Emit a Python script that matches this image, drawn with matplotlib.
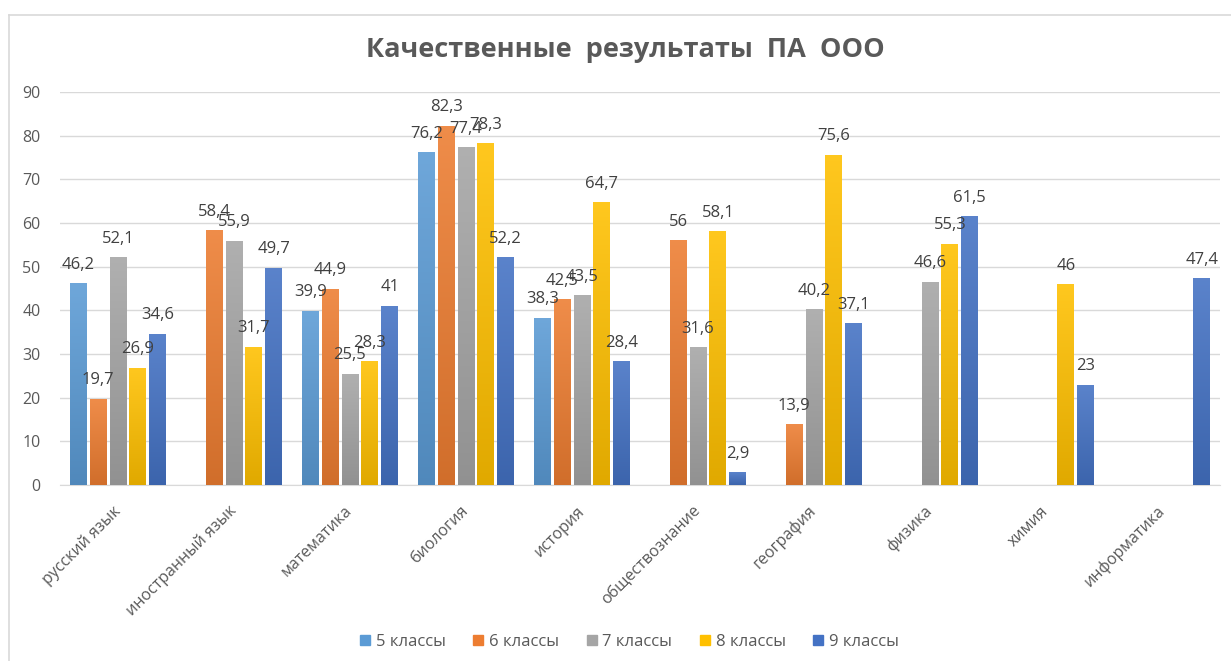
import numpy as np
import matplotlib
matplotlib.use('Agg')
import matplotlib.pyplot as plt
from matplotlib.colors import LinearSegmentedColormap, to_rgb
from matplotlib.lines import Line2D

plt.rcParams['font.family'] = ['Open Sans', 'DejaVu Sans']

subjects = ['русский язык', 'иностранный язык', 'математика', 'биология', 'история',
            'обществознание', 'география', 'физика', 'химия', 'информатика']
series_names = ['5 классы', '6 классы', '7 классы', '8 классы', '9 классы']
nan = np.nan
grade5 = [46.2, nan, 39.9, 76.2, 38.3, nan, nan, nan, nan, nan]
grade6 = [19.7, 58.4, 44.9, 82.3, 42.5, 56, 13.9, nan, nan, nan]
grade7 = [52.1, 55.9, 25.5, 77.4, 43.5, 31.6, 40.2, 46.6, nan, nan]
grade8 = [26.9, 31.7, 28.3, 78.3, 64.7, 58.1, 75.6, 55.3, 46, nan]
grade9 = [34.6, 49.7, 41, 52.2, 28.4, 2.9, 37.1, 61.5, 23, 47.4]
series = [grade5, grade6, grade7, grade8, grade9]
colors = ['#5B9BD5', '#ED7D31', '#A5A5A5', '#FFC000', '#4472C4']


def shade(c, f):
    r, g, b = to_rgb(c)
    if f > 0:
        return (r + (1 - r) * f, g + (1 - g) * f, b + (1 - b) * f)
    return (r * (1 + f), g * (1 + f), b * (1 + f))


fig = plt.figure(figsize=(12.31, 6.61), dpi=100)
ax = fig.add_axes([60 / 1231, (661 - 485) / 661, 1160 / 1231, (485 - 92) / 661])

x = np.arange(len(subjects))
slot = 0.171
width = 0.145
grad = np.linspace(0, 1, 256).reshape(-1, 1)

for i, (vals, col) in enumerate(zip(series, colors)):
    cmap = LinearSegmentedColormap.from_list('g%d' % i, [shade(col, -0.12), shade(col, 0.12)])
    offs = x + (i - 2) * slot
    bars = ax.bar(offs, np.nan_to_num(vals), width, color=col, zorder=2)
    for b, v in zip(bars, vals):
        if np.isnan(v):
            b.set_visible(False)
            continue
        im = ax.imshow(grad, cmap=cmap, origin='lower', aspect='auto', zorder=3,
                       extent=[b.get_x(), b.get_x() + b.get_width(), 0, v])
        im.set_clip_path(b)
        lbl = ('%g' % v).replace('.', ',')
        ax.text(b.get_x() + b.get_width() / 2, v + 2.4, lbl, ha='center', va='bottom',
                fontsize=12, color='#404040', zorder=4)

ax.set_xlim(-0.5, len(subjects) - 0.5)
ax.set_ylim(0, 90)
ax.set_yticks(range(0, 91, 10))
ax.yaxis.grid(True, color='#D9D9D9', linewidth=1)
ax.set_axisbelow(True)
for s in ['top', 'right', 'left']:
    ax.spines[s].set_visible(False)
ax.spines['bottom'].set_color('#D9D9D9')
ax.tick_params(axis='y', length=0, labelsize=11.5, labelcolor='#595959', pad=14)
ax.tick_params(axis='x', length=0, labelsize=11.5, labelcolor='#595959', pad=17)
ax.set_xticks(x)
ax.set_xticklabels(subjects, rotation=45, ha='right', va='center', rotation_mode='anchor')

fig.text(625 / 1231, 1 - 50 / 661, 'Качественные  результаты  ПА  ООО', ha='center', va='center',
         fontsize=19.5, fontweight='bold', color='#595959')

handles = [Line2D([], [], marker='s', linestyle='none', markersize=7, color=c) for c in colors]
fig.legend(handles, series_names, loc='center', bbox_to_anchor=(629 / 1231, 1 - 642 / 661),
           ncol=5, frameon=False, fontsize=12, labelcolor='#595959', handlelength=0.7,
           handletextpad=0.3, columnspacing=1.6)

fig.add_artist(Line2D([8.5 / 1231, 8.5 / 1231], [0, 1 - 14.5 / 661], color='#D9D9D9', lw=1.2))
fig.add_artist(Line2D([8.5 / 1231, 1], [1 - 14.5 / 661, 1 - 14.5 / 661], color='#D9D9D9', lw=1.2))

fig.savefig('out.png', dpi=100)
